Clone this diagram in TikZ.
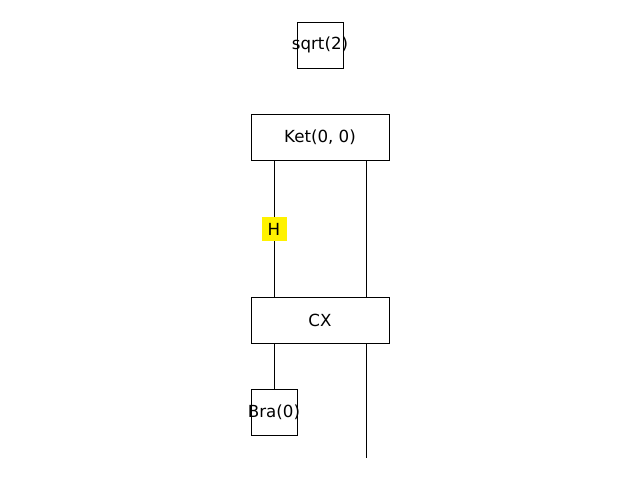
\documentclass[tikz,border=0pt]{standalone}
\usepackage{fontspec}
\setmainfont{DejaVu Sans}
\newcommand{\overtext}[1]{\makebox[0pt]{#1}}
\begin{document}
\begin{tikzpicture}[x=0.72pt, y=-0.72pt, line width=0.65pt,
  every node/.style={font=\fontsize{12}{14}\selectfont},
  gate/.style={draw, inner sep=0pt, minimum height=33.1pt},
  wide/.style={gate, minimum width=99.4pt},
  narrow/.style={gate, minimum width=33.1pt}]
  \useasboundingbox (0,0) rectangle (640,480);
  % boxes
  \node[narrow] (norm) at (320,45) {\overtext{sqrt(2)}};
  \node[wide] (ket) at (320,137) {Ket(0, 0)};
  \node[fill=yellow, inner sep=0pt, minimum width=18pt, minimum height=17.3pt] (h) at (274,229) {H};
  \node[wide] (cx) at (320,320) {CX};
  \node[narrow] (bra) at (274,412) {\overtext{Bra(0)}};
  \coordinate (q1) at (366,137);
  \coordinate (q1end) at (366,458);
  % wires
  \draw (ket.south -| h) -- (h.north);
  \draw (h.south) -- (cx.north -| h);
  \draw (ket.south -| q1) -- (cx.north -| q1);
  \draw (cx.south -| bra) -- (bra.north);
  \draw (cx.south -| q1) -- (q1end);
\end{tikzpicture}
\end{document}
